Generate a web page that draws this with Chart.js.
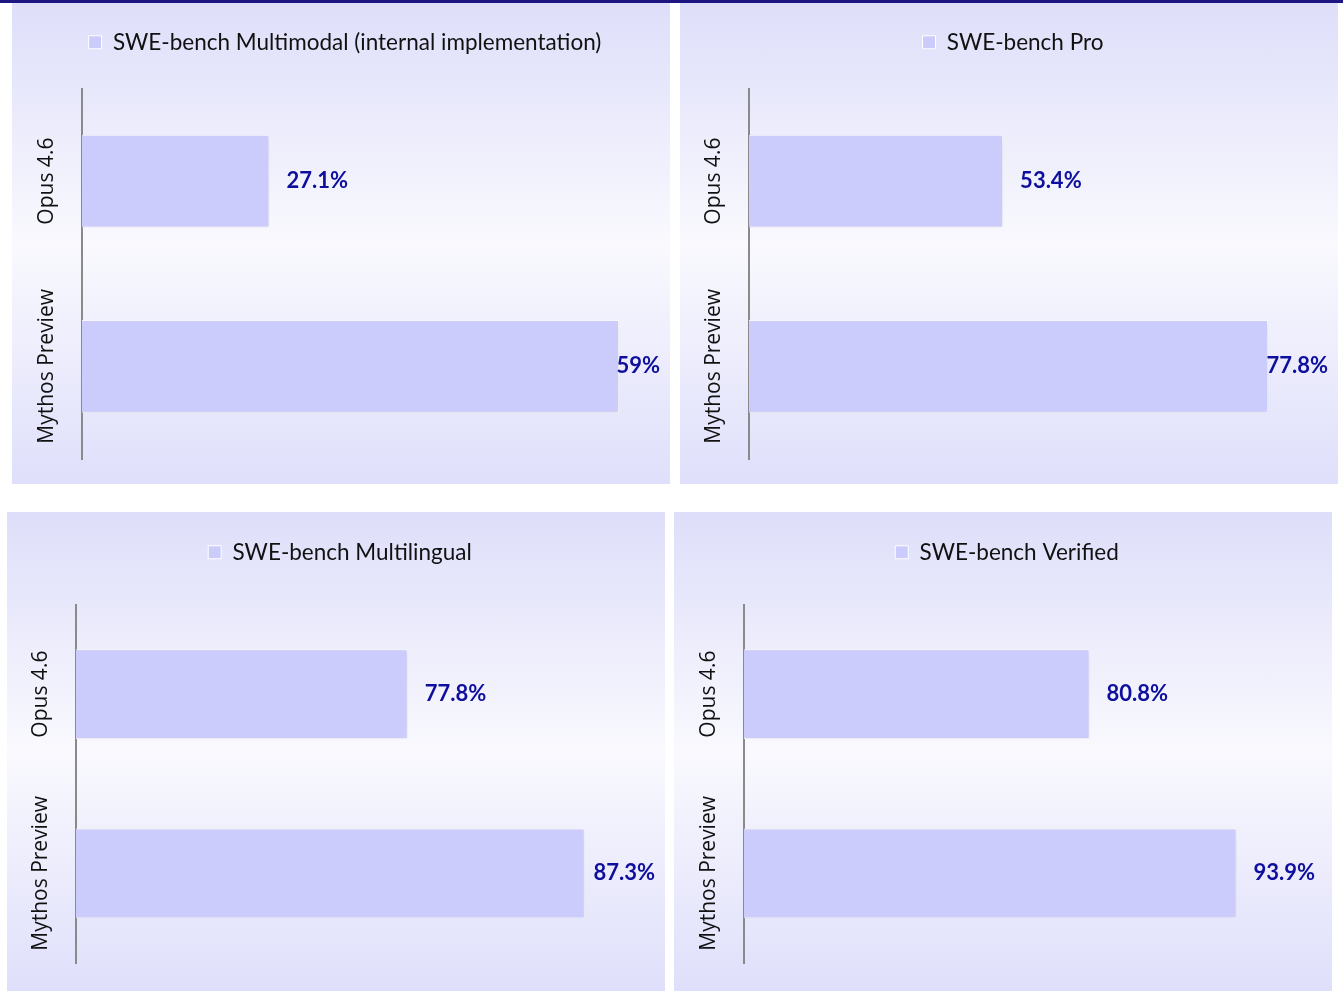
<!DOCTYPE html>
<html>
<head>
<meta charset="utf-8">
<script src="https://cdn.jsdelivr.net/npm/chart.js@4.4.0/dist/chart.umd.min.js"></script>
<style>
  html, body { margin: 0; padding: 0; background: #ffffff; }
  body { width: 1343px; height: 991px; position: relative; overflow: hidden; }
  #topline { position: absolute; left: 0; top: 0; width: 1343px; height: 3px; background: #1c1582; }
  .panel { position: absolute; background: linear-gradient(to bottom, #dedefa 0%, #f9f9fe 50%, #dfdffb 100%); }
  .panel canvas { display: block; }
</style>
</head>
<body>
<div id="topline"></div>
<div class="panel" style="left:12px;top:3px;width:658px;height:481px;"><canvas id="c0" width="658" height="481"></canvas></div>
<div class="panel" style="left:680px;top:3px;width:658px;height:481px;"><canvas id="c1" width="658" height="481"></canvas></div>
<div class="panel" style="left:7px;top:512px;width:658px;height:479px;"><canvas id="c2" width="658" height="479"></canvas></div>
<div class="panel" style="left:674px;top:512px;width:658px;height:479px;"><canvas id="c3" width="658" height="479"></canvas></div>
<script>
// ---- data ----
const categories = ['Opus 4.6', 'Mythos Preview'];
const benchmarks = ['SWE-bench Multimodal (internal implementation)', 'SWE-bench Pro', 'SWE-bench Multilingual', 'SWE-bench Verified'];
const multimodalValues = [27.1, 59];
const proValues = [53.4, 77.8];
const multilingualValues = [77.8, 87.3];
const verifiedValues = [80.8, 93.9];
const axisMins = [10, 30, 60, 50];
const axisMaxs = [60, 80, 90, 100];

const seriesValues = [multimodalValues, proValues, multilingualValues, verifiedValues];

// ---- layout (per panel) ----
const layouts = [
  { left: 70, right: 40, bottom: 25, legendTop: 28, legendExtra: 25 },
  { left: 69, right: 46, bottom: 25, legendTop: 28, legendExtra: 25 },
  { left: 69, right: 30, bottom: 28, legendTop: 29, legendExtra: 31 },
  { left: 70, right: 27, bottom: 28, legendTop: 29, legendExtra: 31 }
];
const LEGEND_SHIFT = 8;

const BAR_COLOR = '#ccccfc';
const VALUE_COLOR = '#0f0f9e';

const legendSpacer = {
  id: 'legendSpacer',
  beforeLayout(chart, args, opts) {
    const lg = chart.legend;
    if (lg && !lg._spaced) {
      const f = lg.fit;
      lg.fit = function () { f.call(this); this.height += (opts.extra || 0); };
      lg._spaced = true;
    }
  }
};

const barShadow = {
  id: 'barShadow',
  beforeDatasetsDraw(chart) {
    const ctx = chart.ctx;
    ctx.save();
    ctx.shadowColor = 'rgba(70,70,110,0.16)';
    ctx.shadowBlur = 8;
    ctx.shadowOffsetX = 2;
    ctx.shadowOffsetY = 2;
  },
  afterDatasetsDraw(chart) {
    chart.ctx.restore();
  }
};

const labelsPlugin = {
  id: 'labelsPlugin',
  afterDraw(chart) {
    const ctx = chart.ctx;
    const yScale = chart.scales.y;
    const meta = chart.getDatasetMeta(0);
    ctx.save();
    // category labels, rotated
    ctx.font = '21px "Open Sans"';
    ctx.fillStyle = '#111111';
    ctx.textAlign = 'center';
    ctx.textBaseline = 'alphabetic';
    chart.data.labels.forEach((lab, i) => {
      const y = yScale.getPixelForValue(i);
      ctx.save();
      ctx.translate(yScale.right - 29, y);
      ctx.rotate(-Math.PI / 2);
      ctx.fillText(lab, 0, 0);
      ctx.restore();
    });
    // value labels
    ctx.font = 'bold 22px Lato';
    ctx.fillStyle = VALUE_COLOR;
    ctx.textAlign = 'left';
    ctx.textBaseline = 'middle';
    meta.data.forEach((bar, i) => {
      const txt = chart.data.datasets[0].data[i] + '%';
      const w = ctx.measureText(txt).width;
      const x = Math.min(bar.x + 17, chart.width - 10 - w);
      ctx.fillText(txt, x, bar.y);
    });
    ctx.restore();
  }
};

seriesValues.forEach((vals, k) => {
  const L = layouts[k];
  new Chart(document.getElementById('c' + k), {
    type: 'bar',
    data: {
      labels: categories,
      datasets: [{
        label: benchmarks[k],
        data: vals,
        backgroundColor: BAR_COLOR,
        borderColor: '#ffffff',
        borderWidth: 1,
        borderSkipped: false,
        barPercentage: 0.5,
        categoryPercentage: 1.0
      }]
    },
    options: {
      indexAxis: 'y',
      responsive: false,
      animation: false,
      devicePixelRatio: 1,
      layout: { padding: { top: L.legendTop, left: LEGEND_SHIFT, right: 0, bottom: L.bottom } },
      scales: {
        x: { display: false, min: axisMins[k], max: axisMaxs[k] },
        y: {
          display: true,
          ticks: { display: false },
          grid: { display: false, drawTicks: false },
          border: { display: true, color: '#8a8a8a', width: 2 },
          afterFit(scale) { scale.width = L.left - LEGEND_SHIFT; }
        },
        yRight: {
          type: 'linear',
          position: 'right',
          display: true,
          ticks: { display: false },
          grid: { display: false, drawTicks: false },
          border: { display: false },
          afterFit(scale) { scale.width = L.right; }
        }
      },
      plugins: {
        legend: {
          display: true,
          position: 'top',
          labels: {
            boxWidth: 13,
            boxHeight: 13,
            padding: 0,
            color: '#111111',
            font: { family: 'Lato', size: 22.5 }
          }
        },
        legendSpacer: { extra: L.legendExtra },
        tooltip: { enabled: false }
      }
    },
    plugins: [legendSpacer, barShadow, labelsPlugin]
  });
});
</script>
</body>
</html>
